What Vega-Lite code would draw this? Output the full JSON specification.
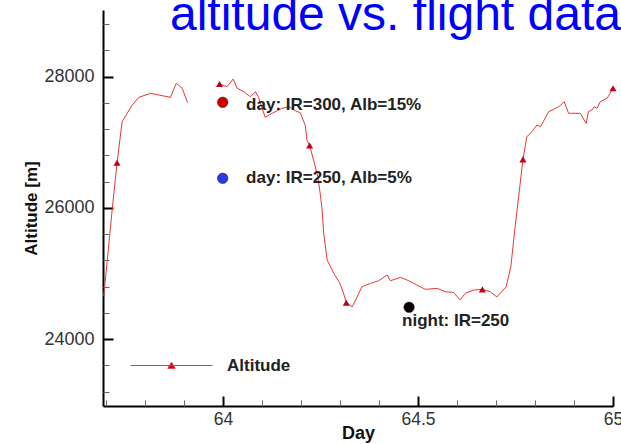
{
  "$schema": "https://vega.github.io/schema/vega-lite/v6.json",
  "width": 510,
  "height": 396,
  "autosize": {"type": "none"},
  "padding": {"left": 103, "top": 10, "right": 8, "bottom": 38},
  "background": "white",
  "title": {"text": "altitude vs. flight data", "anchor": "start", "frame": "group", "dx": 67, "offset": -68, "baseline": "alphabetic", "fontSize": 48, "fontWeight": "normal", "color": "#0000ff", "font": "Liberation Sans"},
  "config": {"view": {"stroke": null}, "font": "Liberation Sans"},
  "datasets": {
    "flight": [
      {"day": 63.694, "alt": 24655, "seg": 1, "marker": false},
      {"day": 63.703, "alt": 25204, "seg": 1, "marker": false},
      {"day": 63.716, "alt": 25997, "seg": 1, "marker": false},
      {"day": 63.728, "alt": 26688, "seg": 1, "marker": true},
      {"day": 63.741, "alt": 27312, "seg": 1, "marker": false},
      {"day": 63.754, "alt": 27441, "seg": 1, "marker": false},
      {"day": 63.767, "alt": 27567, "seg": 1, "marker": false},
      {"day": 63.784, "alt": 27684, "seg": 1, "marker": false},
      {"day": 63.814, "alt": 27745, "seg": 1, "marker": false},
      {"day": 63.865, "alt": 27684, "seg": 1, "marker": false},
      {"day": 63.880, "alt": 27898, "seg": 1, "marker": false},
      {"day": 63.895, "alt": 27822, "seg": 1, "marker": false},
      {"day": 63.909, "alt": 27602, "seg": 1, "marker": false},
      {"day": 63.991, "alt": 27887, "seg": 2, "marker": true},
      {"day": 64.010, "alt": 27846, "seg": 2, "marker": false},
      {"day": 64.026, "alt": 27963, "seg": 2, "marker": false},
      {"day": 64.036, "alt": 27822, "seg": 2, "marker": false},
      {"day": 64.053, "alt": 27770, "seg": 2, "marker": false},
      {"day": 64.070, "alt": 27694, "seg": 2, "marker": false},
      {"day": 64.083, "alt": 27770, "seg": 2, "marker": false},
      {"day": 64.091, "alt": 27684, "seg": 2, "marker": false},
      {"day": 64.108, "alt": 27380, "seg": 2, "marker": false},
      {"day": 64.126, "alt": 27441, "seg": 2, "marker": false},
      {"day": 64.151, "alt": 27517, "seg": 2, "marker": false},
      {"day": 64.170, "alt": 27540, "seg": 2, "marker": false},
      {"day": 64.185, "alt": 27480, "seg": 2, "marker": false},
      {"day": 64.198, "alt": 27450, "seg": 2, "marker": false},
      {"day": 64.211, "alt": 27252, "seg": 2, "marker": false},
      {"day": 64.215, "alt": 27034, "seg": 2, "marker": false},
      {"day": 64.222, "alt": 26950, "seg": 2, "marker": true},
      {"day": 64.232, "alt": 26729, "seg": 2, "marker": false},
      {"day": 64.243, "alt": 26474, "seg": 2, "marker": false},
      {"day": 64.249, "alt": 26221, "seg": 2, "marker": false},
      {"day": 64.254, "alt": 25967, "seg": 2, "marker": false},
      {"day": 64.258, "alt": 25611, "seg": 2, "marker": false},
      {"day": 64.267, "alt": 25204, "seg": 2, "marker": false},
      {"day": 64.284, "alt": 25001, "seg": 2, "marker": false},
      {"day": 64.299, "alt": 24858, "seg": 2, "marker": false},
      {"day": 64.309, "alt": 24697, "seg": 2, "marker": false},
      {"day": 64.316, "alt": 24553, "seg": 2, "marker": true},
      {"day": 64.331, "alt": 24492, "seg": 2, "marker": false},
      {"day": 64.344, "alt": 24645, "seg": 2, "marker": false},
      {"day": 64.356, "alt": 24797, "seg": 2, "marker": false},
      {"day": 64.378, "alt": 24849, "seg": 2, "marker": false},
      {"day": 64.399, "alt": 24889, "seg": 2, "marker": false},
      {"day": 64.421, "alt": 24976, "seg": 2, "marker": false},
      {"day": 64.429, "alt": 24889, "seg": 2, "marker": false},
      {"day": 64.455, "alt": 24941, "seg": 2, "marker": false},
      {"day": 64.476, "alt": 24889, "seg": 2, "marker": false},
      {"day": 64.497, "alt": 24823, "seg": 2, "marker": false},
      {"day": 64.519, "alt": 24758, "seg": 2, "marker": false},
      {"day": 64.549, "alt": 24773, "seg": 2, "marker": false},
      {"day": 64.570, "alt": 24721, "seg": 2, "marker": false},
      {"day": 64.591, "alt": 24712, "seg": 2, "marker": false},
      {"day": 64.608, "alt": 24595, "seg": 2, "marker": false},
      {"day": 64.621, "alt": 24697, "seg": 2, "marker": false},
      {"day": 64.643, "alt": 24747, "seg": 2, "marker": false},
      {"day": 64.665, "alt": 24758, "seg": 2, "marker": true},
      {"day": 64.685, "alt": 24721, "seg": 2, "marker": false},
      {"day": 64.698, "alt": 24660, "seg": 2, "marker": false},
      {"day": 64.703, "alt": 24645, "seg": 2, "marker": false},
      {"day": 64.711, "alt": 24700, "seg": 2, "marker": false},
      {"day": 64.726, "alt": 24797, "seg": 2, "marker": false},
      {"day": 64.738, "alt": 25102, "seg": 2, "marker": false},
      {"day": 64.749, "alt": 25712, "seg": 2, "marker": false},
      {"day": 64.761, "alt": 26322, "seg": 2, "marker": false},
      {"day": 64.769, "alt": 26739, "seg": 2, "marker": true},
      {"day": 64.779, "alt": 27084, "seg": 2, "marker": false},
      {"day": 64.792, "alt": 27160, "seg": 2, "marker": false},
      {"day": 64.805, "alt": 27262, "seg": 2, "marker": false},
      {"day": 64.814, "alt": 27236, "seg": 2, "marker": false},
      {"day": 64.835, "alt": 27465, "seg": 2, "marker": false},
      {"day": 64.861, "alt": 27541, "seg": 2, "marker": false},
      {"day": 64.875, "alt": 27617, "seg": 2, "marker": false},
      {"day": 64.886, "alt": 27441, "seg": 2, "marker": false},
      {"day": 64.916, "alt": 27441, "seg": 2, "marker": false},
      {"day": 64.931, "alt": 27288, "seg": 2, "marker": false},
      {"day": 64.937, "alt": 27465, "seg": 2, "marker": false},
      {"day": 64.946, "alt": 27491, "seg": 2, "marker": false},
      {"day": 64.952, "alt": 27541, "seg": 2, "marker": false},
      {"day": 64.959, "alt": 27516, "seg": 2, "marker": false},
      {"day": 64.967, "alt": 27617, "seg": 2, "marker": false},
      {"day": 64.985, "alt": 27669, "seg": 2, "marker": false},
      {"day": 65.000, "alt": 27822, "seg": 2, "marker": true}
    ],
    "cases": [
      {"day": 63.999, "alt": 27608, "case": "day: IR=300, Alb=15%"},
      {"day": 63.999, "alt": 26450, "case": "day: IR=250, Alb=5%"},
      {"day": 64.477, "alt": 24484, "case": "night: IR=250"}
    ],
    "notes": [
      {"day": 64.059, "alt": 27567, "text": "day: IR=300, Alb=15%"},
      {"day": 64.059, "alt": 26455, "text": "day: IR=250, Alb=5%"},
      {"day": 64.459, "alt": 24268, "text": "night: IR=250"}
    ]
  },
  "resolve": {"axis": {"x": "independent", "y": "independent"}},
  "layer": [
    {
      "data": {"name": "flight"},
      "mark": {"type": "line", "strokeWidth": 1},
      "encoding": {
        "x": {"field": "day", "type": "quantitative",
          "scale": {"domain": [63.692, 65.0], "nice": false, "zero": false},
          "axis": {"orient": "bottom", "values": [64, 64.5, 65], "format": "~g", "title": "Day", "grid": false,
            "domainColor": "#000", "domainWidth": 2, "tickColor": "#000", "tickWidth": 2, "tickSize": -10,
            "labelFontSize": 17.5, "labelColor": "#333", "labelPadding": 14, "labelFlush": false, "labelOverlap": false,
            "titleFontSize": 18, "titleFontWeight": "bold", "titleColor": "#111", "titlePadding": -3}},
        "y": {"field": "alt", "type": "quantitative",
          "scale": {"domain": [22980, 29015], "nice": false, "zero": false},
          "axis": {"orient": "left", "values": [24000, 26000, 28000], "format": "d", "title": "Altitude [m]", "grid": false,
            "domainColor": "#000", "domainWidth": 2, "tickColor": "#000", "tickWidth": 2, "tickSize": -10,
            "labelFontSize": 18, "labelColor": "#333", "labelPadding": 19, "labelOverlap": false, "labelFlush": false,
            "titleFontSize": 17, "titleFontWeight": "bold", "titleColor": "#111", "titlePadding": 3}},
        "detail": {"field": "seg", "type": "nominal"},
        "stroke": {"datum": "Altitude", "type": "nominal", "scale": {"range": ["#e53935"]},
          "legend": {"orient": "none", "legendX": 27, "legendY": 314, "title": null, "padding": 0,
            "symbolType": "M-1,0L1,0M-0.09,0.07L0.09,0.07L0,-0.08Z", "symbolSize": 6724,
            "labelFontSize": 17, "labelFontWeight": "bold", "labelColor": "#222", "labelOffset": 14,
            "encode": {"symbols": {"update": {"fill": {"value": "#c0001a"}, "stroke": {"value": "#e53935"}, "strokeWidth": {"value": 1}}}}}}
      }
    },
    {
      "data": {"name": "flight"},
      "transform": [{"filter": "datum.marker"}],
      "mark": {"type": "point", "shape": "triangle-up", "filled": true, "size": 50, "color": "#c0001a", "opacity": 1},
      "encoding": {
        "x": {"field": "day", "type": "quantitative",
          "axis": {"orient": "bottom", "values": [63.7, 63.8, 63.9, 64.1, 64.2, 64.3, 64.4, 64.6, 64.7, 64.8, 64.9],
            "labels": false, "domain": false, "title": null, "grid": false, "tickSize": -6, "tickWidth": 1, "tickColor": "#666"}},
        "y": {"field": "alt", "type": "quantitative",
          "axis": {"orient": "left", "values": [23200, 23600, 24400, 24800, 25200, 25600, 26400, 26800, 27200, 27600, 28400, 28800],
            "labels": false, "domain": false, "title": null, "grid": false, "tickSize": -6, "tickWidth": 1, "tickColor": "#666"}}
      }
    },
    {
      "data": {"name": "cases"},
      "mark": {"type": "point", "shape": "circle", "filled": true, "size": 110, "opacity": 1, "stroke": "#300", "strokeWidth": 0.5},
      "encoding": {
        "x": {"field": "day", "type": "quantitative", "axis": null},
        "y": {"field": "alt", "type": "quantitative", "axis": null},
        "fill": {"field": "case", "type": "nominal", "legend": null,
          "scale": {"domain": ["day: IR=300, Alb=15%", "day: IR=250, Alb=5%", "night: IR=250"], "range": ["#cc0000", "#2a3ae0", "#000000"]}}
      }
    },
    {
      "data": {"name": "notes"},
      "mark": {"type": "text", "align": "left", "baseline": "middle", "fontSize": 17, "fontWeight": "bold", "color": "#222"},
      "encoding": {
        "x": {"field": "day", "type": "quantitative", "axis": null},
        "y": {"field": "alt", "type": "quantitative", "axis": null},
        "text": {"field": "text", "type": "nominal"}
      }
    }
  ]
}
